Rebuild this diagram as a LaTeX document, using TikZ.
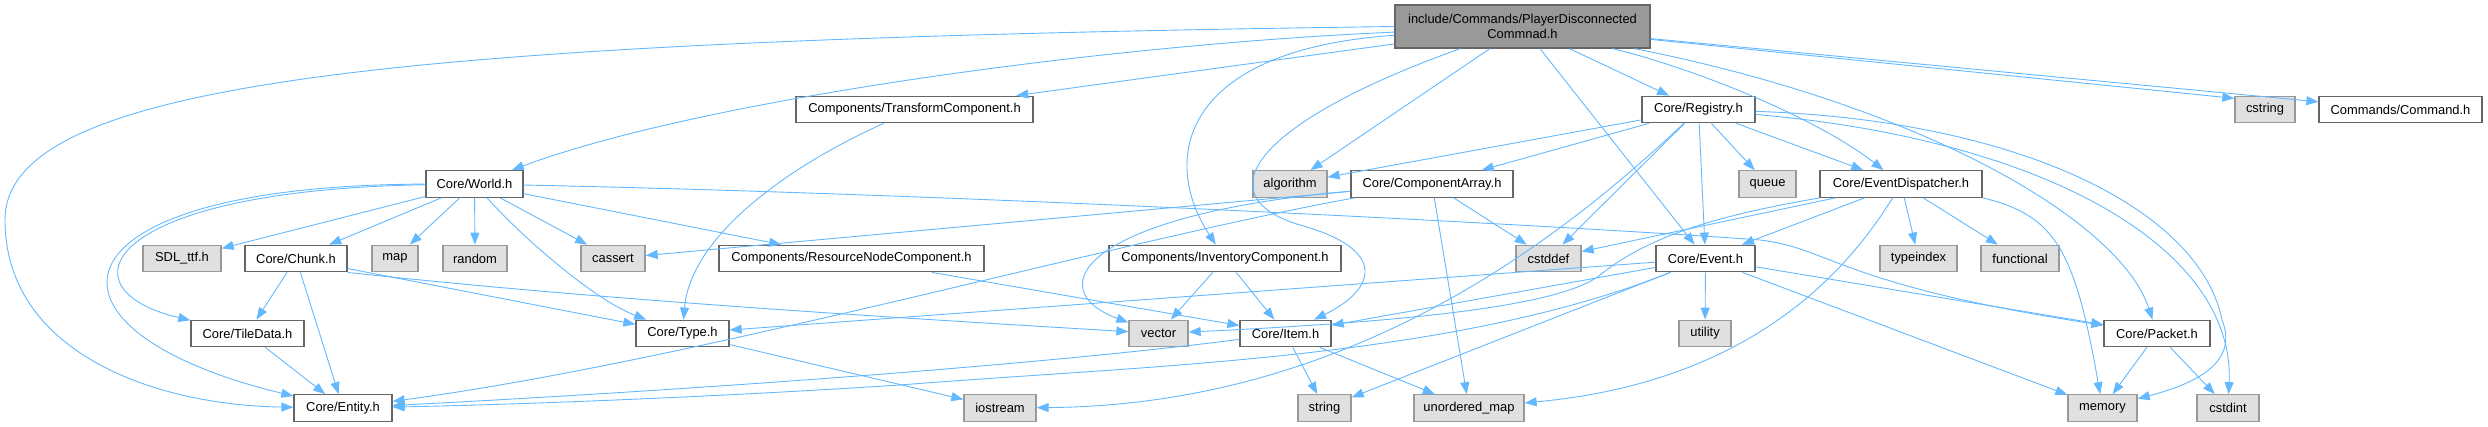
\documentclass[tikz,border=0pt]{standalone}
\usepackage{fontspec}
\setmainfont{Liberation Sans}
\usetikzlibrary{arrows.meta}
\definecolor{edgeblue}{HTML}{63B8FF}
\definecolor{boxline}{HTML}{666666}
\definecolor{sysfill}{HTML}{E0E0E0}
\definecolor{sysline}{HTML}{999999}
\definecolor{mainfill}{HTML}{999999}

\begin{document}
\begin{tikzpicture}[x=1pt, y=-1pt,
  hdr/.style={draw=boxline, line width=1.3pt, fill=white, minimum height=26.5pt,
    inner sep=0pt, font=\fontsize{12.9}{15}\selectfont},
  syshdr/.style={hdr, draw=sysline, fill=sysfill},
  mainhdr/.style={hdr, fill=mainfill, align=center, minimum height=43pt},
  dep/.style={draw=edgeblue, line width=0.9pt, -{Triangle[length=12pt,width=9pt]}}]
  \useasboundingbox (0,0) rectangle (2488,427);
  % Nodes
  \node[mainhdr, minimum width=255pt] (pdc) at (1522.5,26.5) {include/Commands/PlayerDisconnected\\Commnad.h};
  \node[hdr, minimum width=97pt] (world) at (474.5,184) {Core/World.h};
  \node[hdr, minimum width=237pt] (transform) at (914.5,109.5) {Components/TransformComponent.h};
  \node[hdr, minimum width=113pt] (registry) at (1698.5,109.5) {Core/Registry.h};
  \node[syshdr, minimum width=60pt] (cstring) at (2265,109.5) {cstring};
  \node[hdr, minimum width=163pt] (command) at (2400.5,109.5) {Commands/Command.h};
  \node[syshdr, minimum width=74pt] (algorithm) at (1290,184) {algorithm};
  \node[hdr, minimum width=162pt] (comparray) at (1432,184) {Core/ComponentArray.h};
  \node[syshdr, minimum width=57pt] (queue) at (1767.5,184) {queue};
  \node[hdr, minimum width=162pt] (dispatcher) at (1901,184) {Core/EventDispatcher.h};
  \node[syshdr, minimum width=78pt] (sdlttf) at (182,258.5) {SDL\_ttf.h};
  \node[hdr, minimum width=102pt] (chunk) at (296,258.5) {Core/Chunk.h};
  \node[syshdr, minimum width=46pt] (map) at (395,258.5) {map};
  \node[syshdr, minimum width=64pt] (random) at (475,258.5) {random};
  \node[syshdr, minimum width=64pt] (cassert) at (613,258.5) {cassert};
  \node[hdr, minimum width=265pt] (resnode) at (851.5,258.5) {Components/ResourceNodeComponent.h};
  \node[hdr, minimum width=232pt] (inventory) at (1225,258.5) {Components/InventoryComponent.h};
  \node[syshdr, minimum width=65pt] (cstddef) at (1548.5,258.5) {cstddef};
  \node[hdr, minimum width=99pt] (event) at (1705.5,258.5) {Core/Event.h};
  \node[syshdr, minimum width=77pt] (typeindex) at (1918.5,258.5) {typeindex};
  \node[syshdr, minimum width=78pt] (functional) at (2020,258.5) {functional};
  \node[hdr, minimum width=113pt] (tiledata) at (247.5,333.5) {Core/TileData.h};
  \node[hdr, minimum width=93pt] (type) at (682.5,333.5) {Core/Type.h};
  \node[syshdr, minimum width=59pt] (vector) at (1158.5,333.5) {vector};
  \node[hdr, minimum width=91pt] (item) at (1285.5,333.5) {Core/Item.h};
  \node[syshdr, minimum width=52pt] (utility) at (1705,333.5) {utility};
  \node[hdr, minimum width=106pt] (packet) at (2157,333.5) {Core/Packet.h};
  \node[hdr, minimum width=98pt] (entity) at (343,408) {Core/Entity.h};
  \node[syshdr, minimum width=72pt] (iostream) at (1000,408) {iostream};
  \node[syshdr, minimum width=53pt] (string) at (1324.5,408) {string};
  \node[syshdr, minimum width=110pt] (umap) at (1469,408) {unordered\_map};
  \node[syshdr, minimum width=69pt] (memory) at (2102.5,408) {memory};
  \node[syshdr, minimum width=62pt] (cstdint) at (2228,408) {cstdint};
  % Edges
  \draw[dep] (pdc.west) .. controls (400,40) and (5,80) .. (5,220) .. controls (5,350) and (150,405) .. (entity);
  \draw[dep] (pdc) .. controls (1100,45) and (700,100) .. (world);
  \draw[dep] (pdc) -- (transform);
  \draw[dep] (pdc) .. controls (1180,50) and (1160,160) .. (inventory);
  \draw[dep] (pdc) .. controls (1260,120) and (1200,195) .. (1300,225) .. controls (1390,250) and (1375,290) .. (item);
  \draw[dep] (pdc) -- (algorithm);
  \draw[dep] (pdc) -- (event);
  \draw[dep] (pdc) -- (registry);
  \draw[dep] (pdc) .. controls (1700,70) and (1820,120) .. (dispatcher);
  \draw[dep] (pdc) .. controls (1920,105) and (2120,220) .. (packet);
  \draw[dep] (pdc) -- (cstring.160);
  \draw[dep] (pdc) -- (command);
  \draw[dep] (world) -- (sdlttf);
  \draw[dep] (world) -- (chunk);
  \draw[dep] (world) -- (map);
  \draw[dep] (world) -- (random);
  \draw[dep] (world) -- (cassert);
  \draw[dep] (world) .. controls (525,240) and (595,300) .. (type);
  \draw[dep] (world) -- (resnode);
  \draw[dep] (world) .. controls (1000,195) and (1600,228) .. (1760,240) .. controls (1830,248) and (1840,285) .. (packet);
  \draw[dep] (world) .. controls (100,190) and (60,290) .. (tiledata);
  \draw[dep] (world) .. controls (40,185) and (20,330) .. (entity);
  \draw[dep] (chunk) -- (tiledata);
  \draw[dep] (chunk) -- (entity);
  \draw[dep] (chunk) -- (type);
  \draw[dep] (chunk.south east) .. controls (600,300) and (900,318) .. (vector);
  \draw[dep] (tiledata) -- (entity);
  \draw[dep] (type) -- (iostream);
  \draw[dep] (transform) .. controls (780,170) and (690,240) .. (type);
  \draw[dep] (resnode) -- (item);
  \draw[dep] (comparray) -- (cassert);
  \draw[dep] (comparray) .. controls (1120,240) and (700,360) .. (entity);
  \draw[dep] (comparray) .. controls (1080,215) and (1040,290) .. (vector);
  \draw[dep] (comparray) -- (cstddef);
  \draw[dep] (comparray) -- (umap);
  \draw[dep] (inventory) -- (vector);
  \draw[dep] (inventory) -- (item);
  \draw[dep] (item) .. controls (1000,370) and (600,395) .. (entity);
  \draw[dep] (item) -- (string);
  \draw[dep] (item) -- (umap);
  \draw[dep] (registry) -- (algorithm);
  \draw[dep] (registry) -- (comparray);
  \draw[dep] (registry) -- (cstddef);
  \draw[dep] (registry) .. controls (1560,240) and (1350,405) .. (iostream);
  \draw[dep] (registry) -- (event);
  \draw[dep] (registry) -- (queue);
  \draw[dep] (registry) -- (dispatcher);
  \draw[dep] (registry) .. controls (2020,120) and (2200,210) .. (2222,320) .. controls (2240,365) and (2190,385) .. (memory);
  \draw[dep] (registry) .. controls (2050,140) and (2235,250) .. (cstdint);
  \draw[dep] (dispatcher) -- (cstddef);
  \draw[dep] (dispatcher) .. controls (1720,215) and (1650,235) .. (1600,275) .. controls (1560,307) and (1400,322) .. (vector);
  \draw[dep] (dispatcher) -- (event);
  \draw[dep] (dispatcher) .. controls (1830,300) and (1720,385) .. (umap);
  \draw[dep] (dispatcher) -- (typeindex);
  \draw[dep] (dispatcher) -- (functional);
  \draw[dep] (dispatcher.south east) .. controls (2055,215) and (2075,250) .. (memory);
  \draw[dep] (event) -- (utility);
  \draw[dep] (event) -- (packet);
  \draw[dep] (event) -- (memory);
  \draw[dep] (event) -- (type);
  \draw[dep] (event) -- (item);
  \draw[dep] (event) .. controls (1450,360) and (1150,365) .. (900,385) .. controls (700,398) and (500,405) .. (entity);
  \draw[dep] (event) -- (string);
  \draw[dep] (packet) -- (memory);
  \draw[dep] (packet) -- (cstdint);
\end{tikzpicture}
\end{document}
